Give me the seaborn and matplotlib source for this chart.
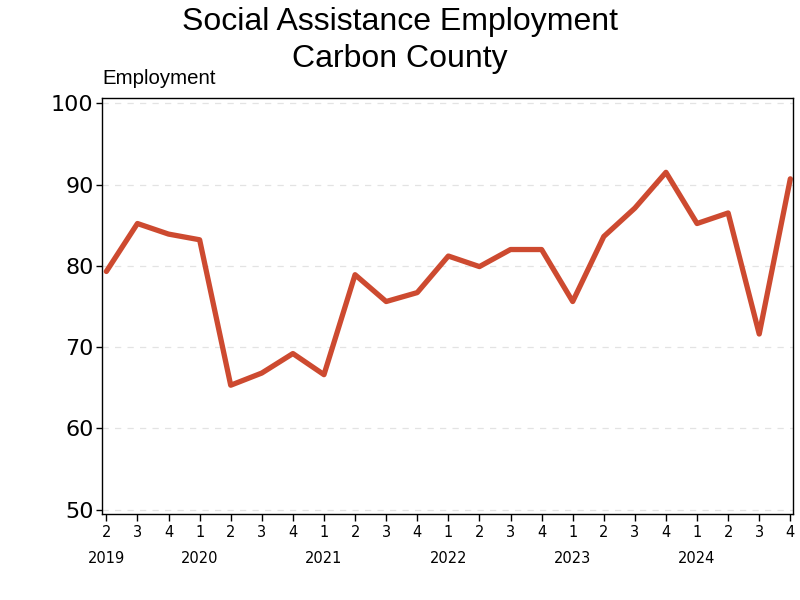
import matplotlib
matplotlib.use("Agg")
import matplotlib.pyplot as plt
import matplotlib.transforms as mtransforms
import seaborn as sns
import pandas as pd

quarters = ["2", "3", "4", "1", "2", "3", "4", "1", "2", "3", "4", "1",
            "2", "3", "4", "1", "2", "3", "4", "1", "2", "3", "4"]
employment = [79.3, 85.2, 83.9, 83.2, 65.3, 66.8, 69.2, 66.6, 78.9, 75.6, 76.7,
              81.2, 79.9, 82.0, 82.0, 75.6, 83.6, 87.1, 91.5, 85.2, 86.5, 71.6, 90.7]
year_labels = ["2019", "2020", "2021", "2022", "2023", "2024"]
year_positions = [0, 3, 7, 11, 15, 19]

df = pd.DataFrame({"idx": range(len(employment)), "Employment": employment})

sns.set_style("white")
plt.rcParams['font.family'] = ['DejaVu Sans']
plt.rcParams['text.color'] = 'black'
plt.rcParams['xtick.color'] = 'black'
plt.rcParams['ytick.color'] = 'black'

fig = plt.figure(figsize=(8, 6), dpi=100)
ax = fig.add_axes([0.1275, 0.1433, 0.8635, 0.6934])

sns.lineplot(data=df, x="idx", y="Employment", ax=ax, color="#CD4A30",
             linewidth=3.8, solid_joinstyle="round", solid_capstyle="round")

ax.set_xlim(-0.14, 22.08)
ax.set_ylim(49.45, 100.65)
ax.set_yticks([50, 60, 70, 80, 90, 100])
ax.yaxis.grid(True, color="#e3e3e3", linestyle=(0, (5, 5)), linewidth=0.9)
ax.xaxis.grid(False)
ax.set_axisbelow(True)

ax.set_xticks(list(range(len(quarters))))
ax.set_xticklabels(quarters, fontsize=10.5)
ax.tick_params(axis="x", direction="out", length=5, width=1, color="black",
               labelcolor="black", pad=3)
ax.tick_params(axis="y", direction="out", length=4, width=1, color="black",
               labelcolor="black", labelsize=16, pad=2)
ax.tick_params(bottom=True, left=True)

for s in ax.spines.values():
    s.set_color("black")
    s.set_linewidth(1)
    s.set_visible(True)

ax.set_xlabel("")
ax.set_ylabel("")

trans = mtransforms.blended_transform_factory(ax.transData, ax.transAxes)
for pos, lab in zip(year_positions, year_labels):
    ax.text(pos, -0.108, lab, transform=trans, ha="center", va="center",
            fontsize=10.5, color="black")

fig.text(0.5, 0.963, "Social Assistance Employment", ha="center", va="center",
         fontsize=23, family=["Liberation Sans"], color="black")
fig.text(0.5, 0.902, "Carbon County", ha="center", va="center",
         fontsize=23, family=["Liberation Sans"], color="black")
fig.text(0.1275, 0.869, "Employment", ha="left", va="center",
         fontsize=14.7, family=["Liberation Sans"], color="black")

fig.savefig("out.png", dpi=100)
